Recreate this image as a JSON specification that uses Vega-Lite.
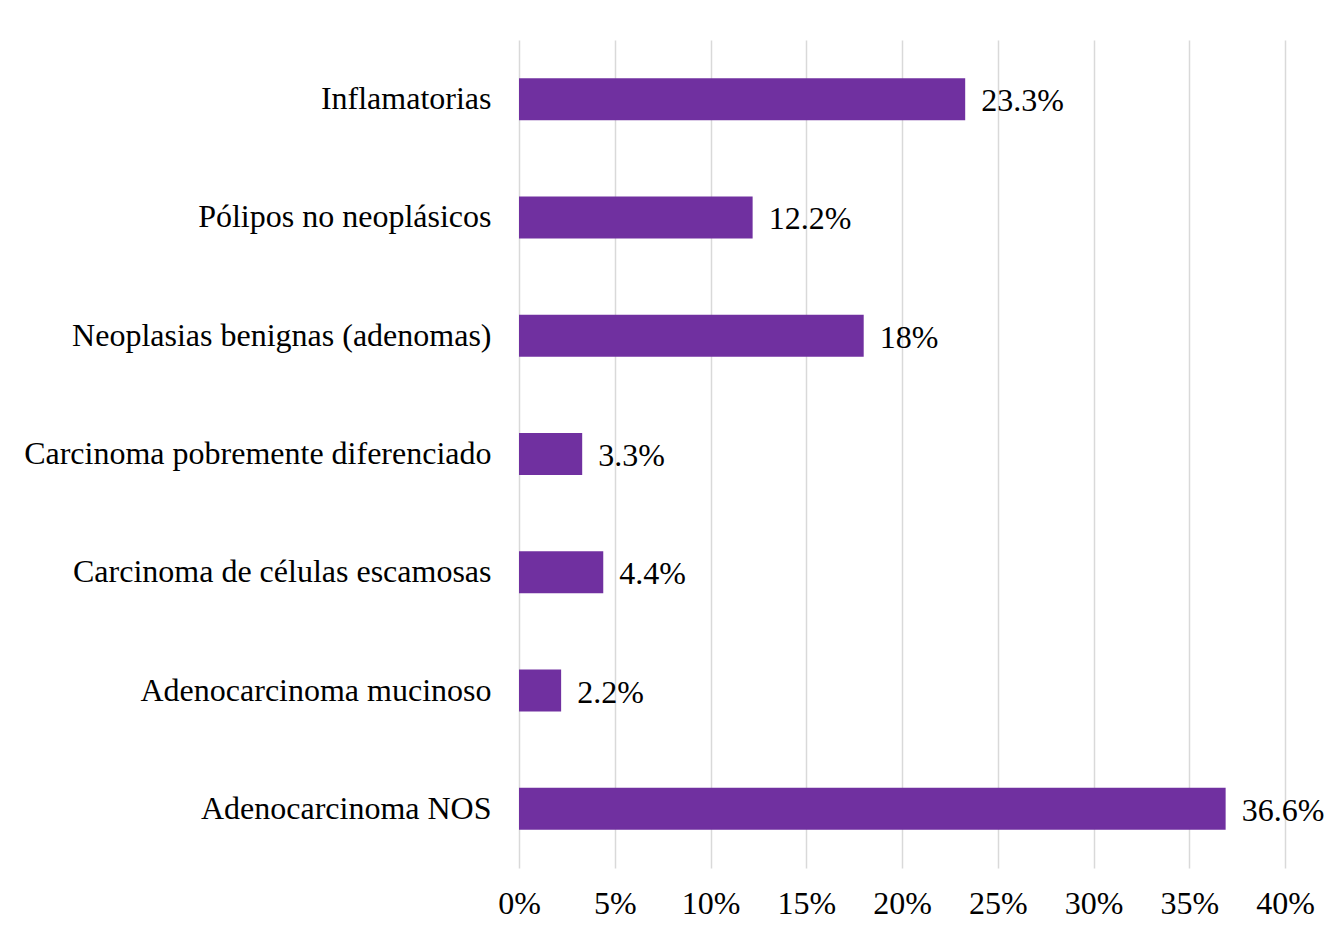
{
  "$schema": "https://vega.github.io/schema/vega-lite/v6.json",
  "width": 766,
  "height": 828,
  "autosize": "none",
  "padding": {"left": 519, "top": 40, "right": 50, "bottom": 64},
  "background": "white",
  "config": {
    "view": {"stroke": null},
    "font": "Liberation Serif"
  },
  "data": {
    "values": [
      {"category": "Inflamatorias", "value": 23.3, "label": "23.3%"},
      {"category": "Pólipos no neoplásicos", "value": 12.2, "label": "12.2%"},
      {"category": "Neoplasias benignas (adenomas)", "value": 18, "label": "18%"},
      {"category": "Carcinoma pobremente diferenciado", "value": 3.3, "label": "3.3%"},
      {"category": "Carcinoma de células escamosas", "value": 4.4, "label": "4.4%"},
      {"category": "Adenocarcinoma mucinoso", "value": 2.2, "label": "2.2%"},
      {"category": "Adenocarcinoma NOS", "value": 36.9, "label": "36.6%"}
    ]
  },
  "encoding": {
    "y": {
      "field": "category",
      "type": "nominal",
      "sort": null,
      "scale": {"paddingInner": 0.645, "paddingOuter": 0.3225},
      "axis": {
        "title": null,
        "domain": false,
        "ticks": false,
        "labelFont": "Liberation Serif",
        "labelFontSize": 32,
        "labelColor": "#000000",
        "labelPadding": 28,
        "labelLimit": 600
      }
    },
    "x": {
      "field": "value",
      "type": "quantitative",
      "scale": {"domain": [0, 40]},
      "axis": {
        "title": null,
        "values": [0, 5, 10, 15, 20, 25, 30, 35, 40],
        "labelExpr": "datum.value + '%'",
        "labelFlush": false,
        "domain": false,
        "ticks": false,
        "grid": true,
        "gridColor": "#d9d9d9",
        "gridWidth": 1.5,
        "labelFont": "Liberation Serif",
        "labelFontSize": 32,
        "labelColor": "#000000",
        "labelPadding": 20
      }
    }
  },
  "layer": [
    {"mark": {"type": "bar", "color": "#7030A0"}},
    {
      "mark": {"type": "text", "align": "left", "baseline": "middle", "dx": 16, "dy": 2, "font": "Liberation Serif", "fontSize": 32, "color": "#000000"},
      "encoding": {"text": {"field": "label", "type": "nominal"}}
    }
  ]
}
